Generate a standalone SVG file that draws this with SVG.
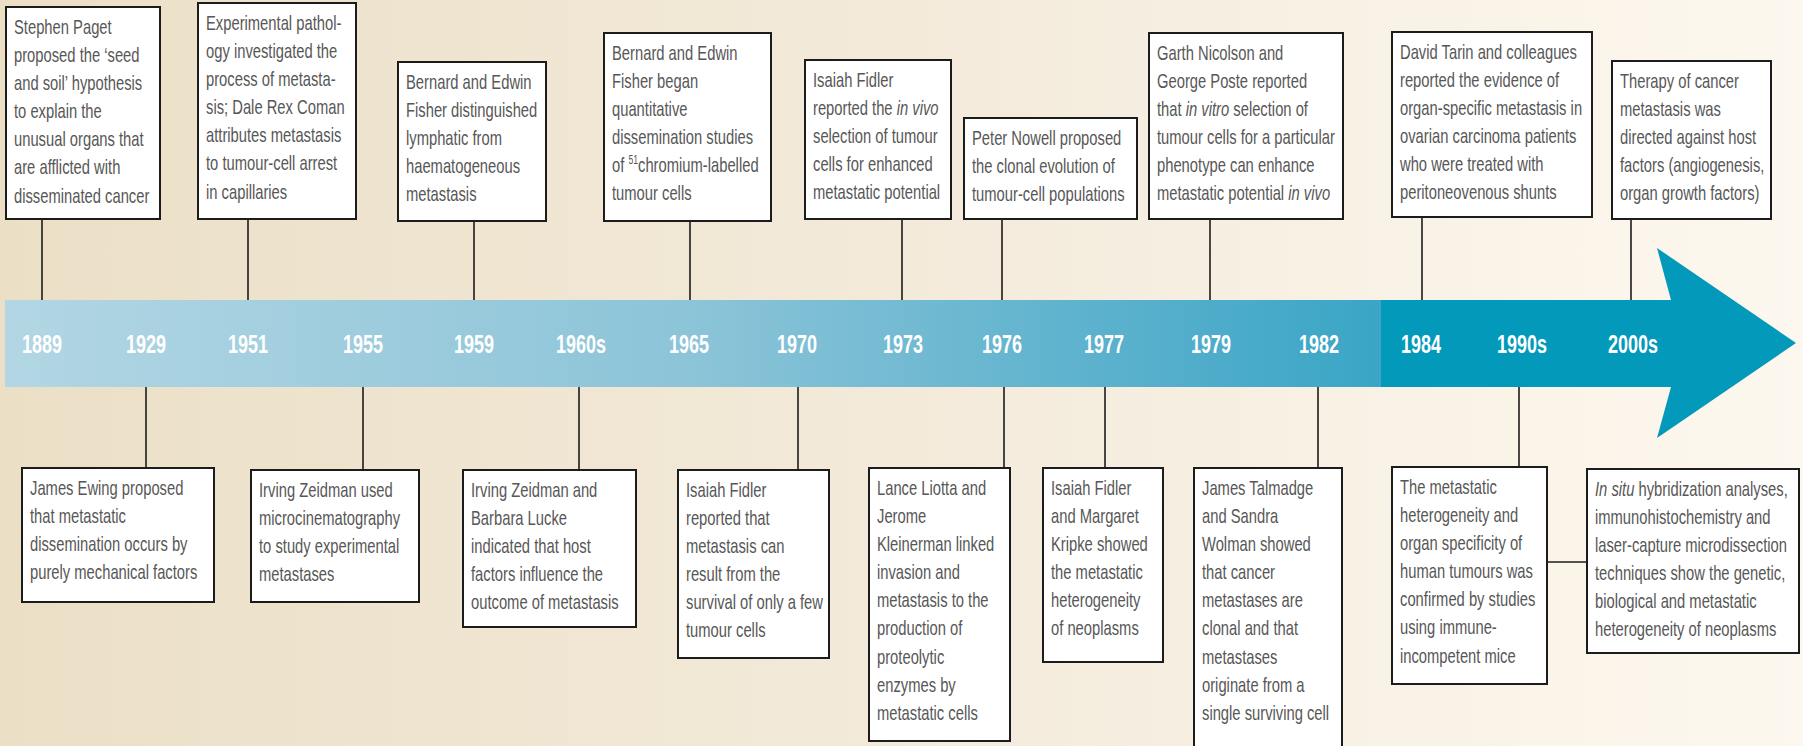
<svg xmlns="http://www.w3.org/2000/svg" width="1803" height="746" viewBox="0 0 1803 746">
<defs>
<linearGradient id="bg" x1="0" y1="0" x2="1" y2="0">
<stop offset="0" stop-color="#ebdfc6"/>
<stop offset="0.5" stop-color="#f3eada"/>
<stop offset="1" stop-color="#fdf8ef"/>
</linearGradient>
<linearGradient id="band" x1="0" y1="0" x2="1" y2="0">
<stop offset="0" stop-color="#b2d6e4"/>
<stop offset="0.5" stop-color="#8cc4d8"/>
<stop offset="1" stop-color="#3aa5c6"/>
</linearGradient>
<style>
.box{fill:#fff;stroke:#1c1c1c;stroke-width:2}
.t{font-family:"Liberation Sans",Arial,sans-serif;font-size:20.5px;fill:#575757}
.yr{font-family:"Liberation Sans",Arial,sans-serif;font-weight:bold;font-size:25px;fill:#fff;text-anchor:middle}
.c{stroke:#1c1c1c;stroke-width:1.6;fill:none}
.i{font-style:italic}
</style>
</defs>
<rect x="0" y="0" width="1803" height="746" fill="url(#bg)"/>
<g id="timeline">
<rect x="5" y="300" width="1377" height="87" fill="url(#band)"/>
<polygon points="1381,300 1671,300 1657,248 1796,343 1657,438 1671,387 1381,387" fill="#0399bb"/>
<text class="yr" transform="translate(42,353) scale(0.72,1)">1889</text>
<text class="yr" transform="translate(146,353) scale(0.72,1)">1929</text>
<text class="yr" transform="translate(248,353) scale(0.72,1)">1951</text>
<text class="yr" transform="translate(363,353) scale(0.72,1)">1955</text>
<text class="yr" transform="translate(474,353) scale(0.72,1)">1959</text>
<text class="yr" transform="translate(581,353) scale(0.72,1)">1960s</text>
<text class="yr" transform="translate(689,353) scale(0.72,1)">1965</text>
<text class="yr" transform="translate(797,353) scale(0.72,1)">1970</text>
<text class="yr" transform="translate(903,353) scale(0.72,1)">1973</text>
<text class="yr" transform="translate(1002,353) scale(0.72,1)">1976</text>
<text class="yr" transform="translate(1104,353) scale(0.72,1)">1977</text>
<text class="yr" transform="translate(1211,353) scale(0.72,1)">1979</text>
<text class="yr" transform="translate(1319,353) scale(0.72,1)">1982</text>
<text class="yr" transform="translate(1421,353) scale(0.72,1)">1984</text>
<text class="yr" transform="translate(1522,353) scale(0.72,1)">1990s</text>
<text class="yr" transform="translate(1633,353) scale(0.72,1)">2000s</text>
</g>
<g id="connectors">
<line class="c" x1="42" y1="219" x2="42" y2="300"/>
<line class="c" x1="248" y1="219" x2="248" y2="300"/>
<line class="c" x1="474" y1="221" x2="474" y2="300"/>
<line class="c" x1="690" y1="221" x2="690" y2="300"/>
<line class="c" x1="902" y1="219" x2="902" y2="300"/>
<line class="c" x1="1002" y1="219" x2="1002" y2="300"/>
<line class="c" x1="1210" y1="219" x2="1210" y2="300"/>
<line class="c" x1="1422" y1="217" x2="1422" y2="300"/>
<line class="c" x1="1631" y1="219" x2="1631" y2="300"/>
<line class="c" x1="146" y1="387" x2="146" y2="468"/>
<line class="c" x1="363" y1="387" x2="363" y2="470"/>
<line class="c" x1="579" y1="387" x2="579" y2="470"/>
<line class="c" x1="798" y1="387" x2="798" y2="470"/>
<line class="c" x1="1004" y1="387" x2="1004" y2="468"/>
<line class="c" x1="1105" y1="387" x2="1105" y2="468"/>
<line class="c" x1="1318" y1="387" x2="1318" y2="468"/>
<line class="c" x1="1519" y1="387" x2="1519" y2="467"/>
<line class="c" x1="1547" y1="562" x2="1587" y2="562"/>
</g>
<g id="n1889">
<rect class="box" x="6" y="7" width="154" height="212"/>
<text class="t" transform="translate(14,34) scale(0.72,1)"><tspan x="0">Stephen Paget</tspan><tspan x="0" dy="28.1">proposed the ‘seed</tspan><tspan x="0" dy="28.1">and soil’ hypothesis</tspan><tspan x="0" dy="28.1">to explain the</tspan><tspan x="0" dy="28.1">unusual organs that</tspan><tspan x="0" dy="28.1">are afflicted with</tspan><tspan x="0" dy="28.1">disseminated cancer</tspan></text>
</g>
<g id="n1951">
<rect class="box" x="198" y="3" width="158" height="216"/>
<text class="t" transform="translate(206,30) scale(0.72,1)"><tspan x="0">Experimental pathol-</tspan><tspan x="0" dy="28.1">ogy investigated the</tspan><tspan x="0" dy="28.1">process of metasta-</tspan><tspan x="0" dy="28.1">sis; Dale Rex Coman</tspan><tspan x="0" dy="28.1">attributes metastasis</tspan><tspan x="0" dy="28.1">to tumour-cell arrest</tspan><tspan x="0" dy="28.1">in capillaries</tspan></text>
</g>
<g id="n1959">
<rect class="box" x="398" y="62" width="148" height="159"/>
<text class="t" transform="translate(406,89) scale(0.72,1)"><tspan x="0">Bernard and Edwin</tspan><tspan x="0" dy="28.1">Fisher distinguished</tspan><tspan x="0" dy="28.1">lymphatic from</tspan><tspan x="0" dy="28.1">haematogeneous</tspan><tspan x="0" dy="28.1">metastasis</tspan></text>
</g>
<g id="n1965">
<rect class="box" x="604" y="33" width="167" height="188"/>
<text class="t" transform="translate(612,60) scale(0.72,1)"><tspan x="0">Bernard and Edwin</tspan><tspan x="0" dy="28.1">Fisher began</tspan><tspan x="0" dy="28.1">quantitative</tspan><tspan x="0" dy="28.1">dissemination studies</tspan><tspan x="0" dy="28.1">of </tspan><tspan font-size="12" dy="-8">51</tspan><tspan dy="8">chromium-labelled</tspan><tspan x="0" dy="28.1">tumour cells</tspan></text>
</g>
<g id="n1973">
<rect class="box" x="805" y="60" width="146" height="159"/>
<text class="t" transform="translate(813,87) scale(0.72,1)"><tspan x="0">Isaiah Fidler</tspan><tspan x="0" dy="28.1">reported the <tspan class="i">in vivo</tspan></tspan><tspan x="0" dy="28.1">selection of tumour</tspan><tspan x="0" dy="28.1">cells for enhanced</tspan><tspan x="0" dy="28.1">metastatic potential</tspan></text>
</g>
<g id="n1976a">
<rect class="box" x="964" y="118" width="173" height="101"/>
<text class="t" transform="translate(972,145) scale(0.72,1)"><tspan x="0">Peter Nowell proposed</tspan><tspan x="0" dy="28.1">the clonal evolution of</tspan><tspan x="0" dy="28.1">tumour-cell populations</tspan></text>
</g>
<g id="n1979">
<rect class="box" x="1149" y="33" width="194" height="186"/>
<text class="t" transform="translate(1157,60) scale(0.72,1)"><tspan x="0">Garth Nicolson and</tspan><tspan x="0" dy="28.1">George Poste reported</tspan><tspan x="0" dy="28.1">that <tspan class="i">in vitro</tspan> selection of</tspan><tspan x="0" dy="28.1">tumour cells for a particular</tspan><tspan x="0" dy="28.1">phenotype can enhance</tspan><tspan x="0" dy="28.1">metastatic potential <tspan class="i">in vivo</tspan></tspan></text>
</g>
<g id="n1984">
<rect class="box" x="1392" y="32" width="200" height="185"/>
<text class="t" transform="translate(1400,59) scale(0.72,1)"><tspan x="0">David Tarin and colleagues</tspan><tspan x="0" dy="28.1">reported the evidence of</tspan><tspan x="0" dy="28.1">organ-specific metastasis in</tspan><tspan x="0" dy="28.1">ovarian carcinoma patients</tspan><tspan x="0" dy="28.1">who were treated with</tspan><tspan x="0" dy="28.1">peritoneovenous shunts</tspan></text>
</g>
<g id="n2000s">
<rect class="box" x="1612" y="61" width="159" height="158"/>
<text class="t" transform="translate(1620,88) scale(0.72,1)"><tspan x="0">Therapy of cancer</tspan><tspan x="0" dy="28.1">metastasis was</tspan><tspan x="0" dy="28.1">directed against host</tspan><tspan x="0" dy="28.1">factors (angiogenesis,</tspan><tspan x="0" dy="28.1">organ growth factors)</tspan></text>
</g>
<g id="n1929">
<rect class="box" x="22" y="468" width="192" height="134"/>
<text class="t" transform="translate(30,495) scale(0.72,1)"><tspan x="0">James Ewing proposed</tspan><tspan x="0" dy="28.1">that metastatic</tspan><tspan x="0" dy="28.1">dissemination occurs by</tspan><tspan x="0" dy="28.1">purely mechanical factors</tspan></text>
</g>
<g id="n1955">
<rect class="box" x="251" y="470" width="168" height="132"/>
<text class="t" transform="translate(259,497) scale(0.72,1)"><tspan x="0">Irving Zeidman used</tspan><tspan x="0" dy="28.1">microcinematography</tspan><tspan x="0" dy="28.1">to study experimental</tspan><tspan x="0" dy="28.1">metastases</tspan></text>
</g>
<g id="n1960s">
<rect class="box" x="463" y="470" width="173" height="157"/>
<text class="t" transform="translate(471,497) scale(0.72,1)"><tspan x="0">Irving Zeidman and</tspan><tspan x="0" dy="28.1">Barbara Lucke</tspan><tspan x="0" dy="28.1">indicated that host</tspan><tspan x="0" dy="28.1">factors influence the</tspan><tspan x="0" dy="28.1">outcome of metastasis</tspan></text>
</g>
<g id="n1970">
<rect class="box" x="678" y="470" width="151" height="188"/>
<text class="t" transform="translate(686,497) scale(0.72,1)"><tspan x="0">Isaiah Fidler</tspan><tspan x="0" dy="28.1">reported that</tspan><tspan x="0" dy="28.1">metastasis can</tspan><tspan x="0" dy="28.1">result from the</tspan><tspan x="0" dy="28.1">survival of only a few</tspan><tspan x="0" dy="28.1">tumour cells</tspan></text>
</g>
<g id="n1976b">
<rect class="box" x="869" y="468" width="141" height="273"/>
<text class="t" transform="translate(877,495) scale(0.72,1)"><tspan x="0">Lance Liotta and</tspan><tspan x="0" dy="28.1">Jerome</tspan><tspan x="0" dy="28.1">Kleinerman linked</tspan><tspan x="0" dy="28.1">invasion and</tspan><tspan x="0" dy="28.1">metastasis to the</tspan><tspan x="0" dy="28.1">production of</tspan><tspan x="0" dy="28.1">proteolytic</tspan><tspan x="0" dy="28.1">enzymes by</tspan><tspan x="0" dy="28.1">metastatic cells</tspan></text>
</g>
<g id="n1977">
<rect class="box" x="1043" y="468" width="120" height="194"/>
<text class="t" transform="translate(1051,495) scale(0.72,1)"><tspan x="0">Isaiah Fidler</tspan><tspan x="0" dy="28.1">and Margaret</tspan><tspan x="0" dy="28.1">Kripke showed</tspan><tspan x="0" dy="28.1">the metastatic</tspan><tspan x="0" dy="28.1">heterogeneity</tspan><tspan x="0" dy="28.1">of neoplasms</tspan></text>
</g>
<g id="n1982">
<rect class="box" x="1194" y="468" width="148" height="290"/>
<text class="t" transform="translate(1202,495) scale(0.72,1)"><tspan x="0">James Talmadge</tspan><tspan x="0" dy="28.1">and Sandra</tspan><tspan x="0" dy="28.1">Wolman showed</tspan><tspan x="0" dy="28.1">that cancer</tspan><tspan x="0" dy="28.1">metastases are</tspan><tspan x="0" dy="28.1">clonal and that</tspan><tspan x="0" dy="28.1">metastases</tspan><tspan x="0" dy="28.1">originate from a</tspan><tspan x="0" dy="28.1">single surviving cell</tspan></text>
</g>
<g id="n1990s">
<rect class="box" x="1392" y="467" width="155" height="217"/>
<text class="t" transform="translate(1400,494) scale(0.72,1)"><tspan x="0">The metastatic</tspan><tspan x="0" dy="28.1">heterogeneity and</tspan><tspan x="0" dy="28.1">organ specificity of</tspan><tspan x="0" dy="28.1">human tumours was</tspan><tspan x="0" dy="28.1">confirmed by studies</tspan><tspan x="0" dy="28.1">using immune-</tspan><tspan x="0" dy="28.1">incompetent mice</tspan></text>
</g>
<g id="n1990s-b">
<rect class="box" x="1587" y="469" width="212" height="184"/>
<text class="t" transform="translate(1595,496) scale(0.72,1)"><tspan x="0"><tspan class="i">In situ</tspan> hybridization analyses,</tspan><tspan x="0" dy="28.1">immunohistochemistry and</tspan><tspan x="0" dy="28.1">laser-capture microdissection</tspan><tspan x="0" dy="28.1">techniques show the genetic,</tspan><tspan x="0" dy="28.1">biological and metastatic</tspan><tspan x="0" dy="28.1">heterogeneity of neoplasms</tspan></text>
</g>
</svg>
